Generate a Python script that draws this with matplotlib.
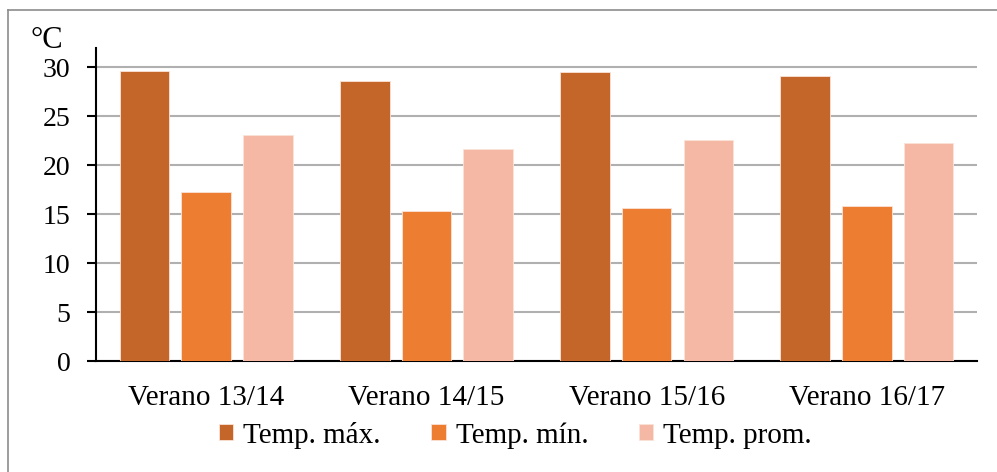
import numpy as np
import matplotlib
matplotlib.use("Agg")
import matplotlib.pyplot as plt
from matplotlib.lines import Line2D

plt.rcParams['font.family'] = ['Liberation Serif', 'DejaVu Serif']

# Data
veranos = ['Verano 13/14', 'Verano 14/15', 'Verano 15/16', 'Verano 16/17']
temp_max = [29.6, 28.6, 29.5, 29.1]
temp_min = [17.3, 15.35, 15.6, 15.85]
temp_prom = [23.1, 21.7, 22.55, 22.3]
series_names = ['Temp. máx.', 'Temp. mín.', 'Temp. prom.']
colores = ['#C4662A', '#ED7D31', '#F4B8A4']

fig = plt.figure(figsize=(9.97, 4.72), dpi=100)
ax = fig.add_axes([0.0963, 0.235, 0.8837, 0.664])

x = np.arange(len(veranos))
step = 0.28
width = 0.225
for i, (vals, name, c) in enumerate(zip([temp_max, temp_min, temp_prom], series_names, colores)):
    ax.bar(x + (i - 1) * step, vals, width, color=c, label=name,
           edgecolor='#FBE3D8', linewidth=0.6, zorder=3)

ax.set_xlim(-0.5, 3.5)
ax.set_ylim(0, 32)
ax.set_yticks(range(0, 31, 5))
ax.set_xticks(x)
ax.set_xticklabels(veranos)
ax.yaxis.grid(True, color='#B0B0B0', linewidth=1.5, zorder=0)

for s in ['top', 'right']:
    ax.spines[s].set_visible(False)
ax.spines['left'].set_linewidth(1.5)
ax.spines['bottom'].set_linewidth(1.5)
ax.tick_params(axis='y', length=6.5, width=1.5, pad=12, labelsize=20)
ax.tick_params(axis='x', length=0, pad=17, labelsize=21)

fig.text(0.031, 0.945, '°C', fontsize=22, ha='left', va='top')

ax.legend(loc='center', bbox_to_anchor=(0.476, -0.236), ncol=3, frameon=False,
          fontsize=21, handlelength=0.49, handleheight=0.49, handletextpad=0.34,
          columnspacing=1.74, borderpad=0)

# outer frame (top and left edges visible)
fig.add_artist(Line2D([0.008, 1.0], [0.979, 0.979], color='#8C8C8C', linewidth=1.2))
fig.add_artist(Line2D([0.008, 0.008], [0.0, 0.979], color='#8C8C8C', linewidth=1.2))

fig.savefig('out.png', dpi=100)
